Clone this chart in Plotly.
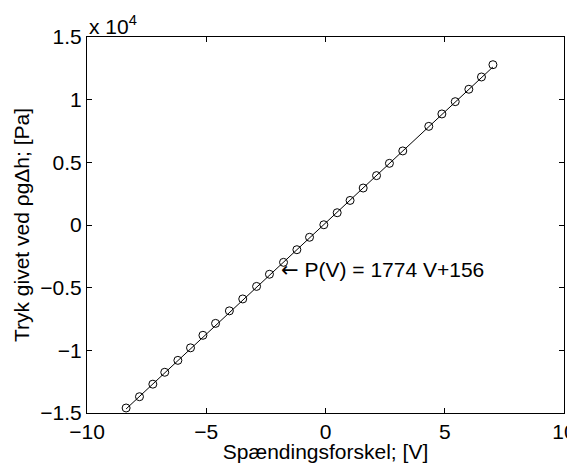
import plotly.graph_objects as go

# Measured data: voltage difference [V] and pressure [Pa]
voltage = [-8.36, -7.80, -7.24, -6.74, -6.19, -5.66, -5.14, -4.61, -4.03, -3.47,
           -2.89, -2.35, -1.76, -1.20, -0.67, -0.07, 0.49, 1.03, 1.58, 2.14,
           2.68, 3.24, 4.33, 4.88, 5.44, 6.01, 6.54, 7.02]
pressure = [-14600, -13700, -12700, -11750, -10800, -9800, -8800, -7850, -6850, -5900,
            -4900, -3930, -2980, -1970, -980, 20, 980, 1960, 2950, 3940,
            4920, 5910, 7870, 8860, 9840, 10830, 11810, 12790]

# Linear fit P(V) = a V + b
fit_slope = 1774
fit_intercept = 156

x_ticks = [-10, -5, 0, 5, 10]
y_ticks = [-15000, -10000, -5000, 0, 5000, 10000, 15000]
y_ticklabels = ["\u22121.5", "\u22121", "\u22120.5", "0", "0.5", "1", "1.5"]

label_pos = (-1.97, -3590)

font_family = "Liberation Sans, Arial, sans-serif"
fs = 21

v_min, v_max = min(voltage), max(voltage)
fit_x = [v_min, v_max]
fit_y = [fit_slope * v + fit_intercept for v in fit_x]

fig = go.Figure()
fig.add_trace(go.Scatter(x=fit_x, y=fit_y, mode="lines",
                         line=dict(color="black", width=1), showlegend=False))
fig.add_trace(go.Scatter(x=voltage, y=pressure, mode="markers",
                         marker=dict(symbol="circle-open", size=8, color="black",
                                     line=dict(width=1, color="black")),
                         showlegend=False))

fig.add_annotation(x=label_pos[0], y=label_pos[1], xref="x", yref="y",
                   text=("<span style='font-family:DejaVu Sans'>\u2190</span>"
                         f" P(V) = {fit_slope} V+{fit_intercept}"),
                   showarrow=False, xanchor="left", yanchor="middle",
                   font=dict(family=font_family, size=fs, color="black"))
fig.add_annotation(x=0, y=1, xref="paper", yref="paper",
                   text="x 10<sup>4</sup>", showarrow=False,
                   xanchor="left", yanchor="bottom", yshift=-3,
                   font=dict(family=font_family, size=fs, color="black"))

axis_common = dict(showgrid=False, zeroline=False, showline=True, linecolor="black",
                   linewidth=1, mirror="ticks", ticks="inside", ticklen=5,
                   tickcolor="black", tickwidth=1, automargin=False,
                   ticklabeloverflow="allow",
                   tickfont=dict(family=font_family, size=fs, color="black"))

fig.update_xaxes(range=[-10, 10], tickvals=x_ticks,
                 title=dict(text="Spændingsforskel; [V]", standoff=4,
                            font=dict(family=font_family, size=fs, color="black")),
                 **axis_common)
fig.update_yaxes(range=[-15000, 15000], tickvals=y_ticks, ticktext=y_ticklabels,
                 title=dict(text="Tryk givet ved \u03c1g\u0394h; [Pa]", standoff=4,
                            font=dict(family=font_family, size=fs, color="black")),
                 **axis_common)

# The page adds an 8px body margin, so the figure is sized and offset to match
fig.update_layout(width=570, height=455,
                  margin=dict(l=79, r=14, t=29, b=50, autoexpand=False),
                  paper_bgcolor="white", plot_bgcolor="white",
                  font=dict(family=font_family, size=fs, color="black"))

fig.write_html("out.html")
